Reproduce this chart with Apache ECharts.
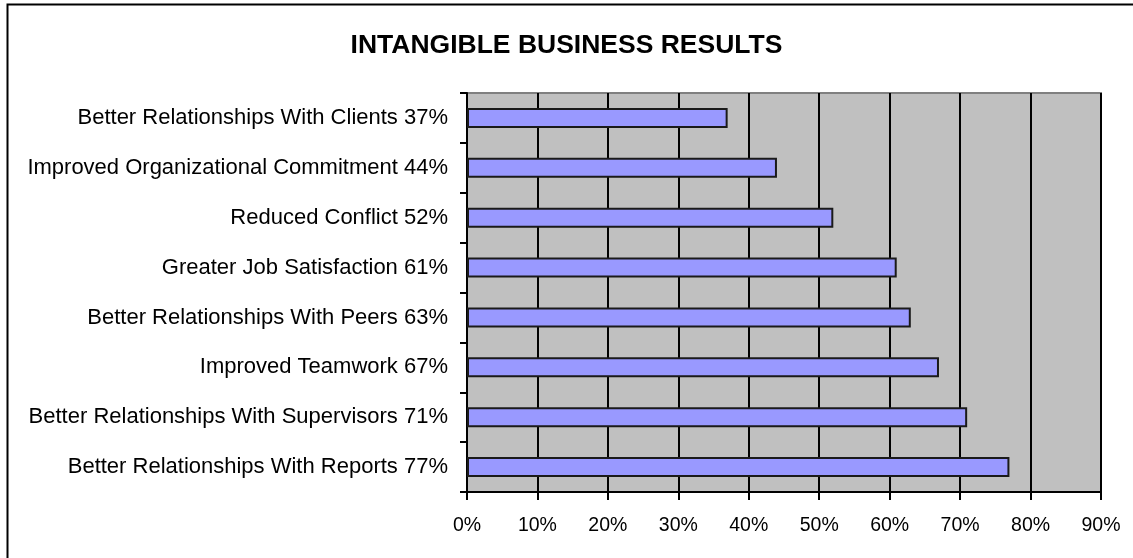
<!DOCTYPE html>
<html>
<head>
<meta charset="utf-8">
<script src="https://cdn.jsdelivr.net/npm/echarts@6/dist/echarts.min.js"></script>
<style>
  html, body { margin: 0; padding: 0; background: #fff; }
  #chart { width: 1133px; height: 558px; }
</style>
</head>
<body>
<div id="chart"></div>
<script>
// Survey outcomes, top to bottom
const outcomes = [
  'Better Relationships With Clients',
  'Improved Organizational Commitment',
  'Reduced Conflict',
  'Greater Job Satisfaction',
  'Better Relationships With Peers',
  'Improved Teamwork',
  'Better Relationships With Supervisors',
  'Better Relationships With Reports'
];
// Percentage of respondents reporting each outcome
const percents = [37, 44, 52, 61, 63, 67, 71, 77];
// Value axis ticks (percent)
const axisMin = 0;
const axisMax = 90;
const axisStep = 10;

const labels = outcomes.map((name, i) => name + ' ' + percents[i] + '%');
const FONT = '"Liberation Sans", Arial, sans-serif';

const chart = echarts.init(document.getElementById('chart'), null, { renderer: 'canvas' });
chart.setOption({
  animation: false,
  backgroundColor: '#ffffff',
  textStyle: { fontFamily: FONT },
  title: {
    text: 'INTANGIBLE BUSINESS RESULTS',
    left: 'center',
    top: 27,
    textStyle: { fontFamily: FONT, fontSize: 26.5, fontWeight: 'bold', color: '#000' }
  },
  graphic: [{
    type: 'rect',
    shape: { x: 7.5, y: 4.5, width: 1300, height: 700 },
    style: { fill: 'none', stroke: '#000', lineWidth: 2 },
    silent: true,
    z: 100
  }],
  grid: {
    left: 467,
    right: 32,
    top: 93,
    bottom: 66,
    show: true,
    backgroundColor: '#c0c0c0',
    borderColor: '#808080',
    borderWidth: 2
  },
  xAxis: {
    type: 'value',
    min: axisMin,
    max: axisMax,
    interval: axisStep,
    axisLine: { show: true, lineStyle: { color: '#000', width: 2 } },
    axisTick: { show: true, length: 8, lineStyle: { color: '#000', width: 2 } },
    axisLabel: {
      formatter: '{value}%',
      color: '#000',
      fontFamily: FONT,
      fontSize: 19.5,
      margin: 24
    },
    splitLine: { show: true, lineStyle: { color: '#000', width: 2 } }
  },
  yAxis: {
    type: 'category',
    inverse: true,
    data: labels,
    axisLine: { show: true, lineStyle: { color: '#000', width: 2 } },
    axisTick: { show: true, length: 7, lineStyle: { color: '#000', width: 2 } },
    axisLabel: {
      color: '#000',
      fontFamily: FONT,
      fontSize: 22,
      margin: 19,
      padding: [4, 0, 0, 0]
    },
    splitLine: { show: false }
  },
  series: [{
    type: 'bar',
    data: percents,
    barWidth: 20,
    itemStyle: { color: '#9999ff', borderColor: '#1a1a1a', borderWidth: 2 }
  }]
});
</script>
</body>
</html>
